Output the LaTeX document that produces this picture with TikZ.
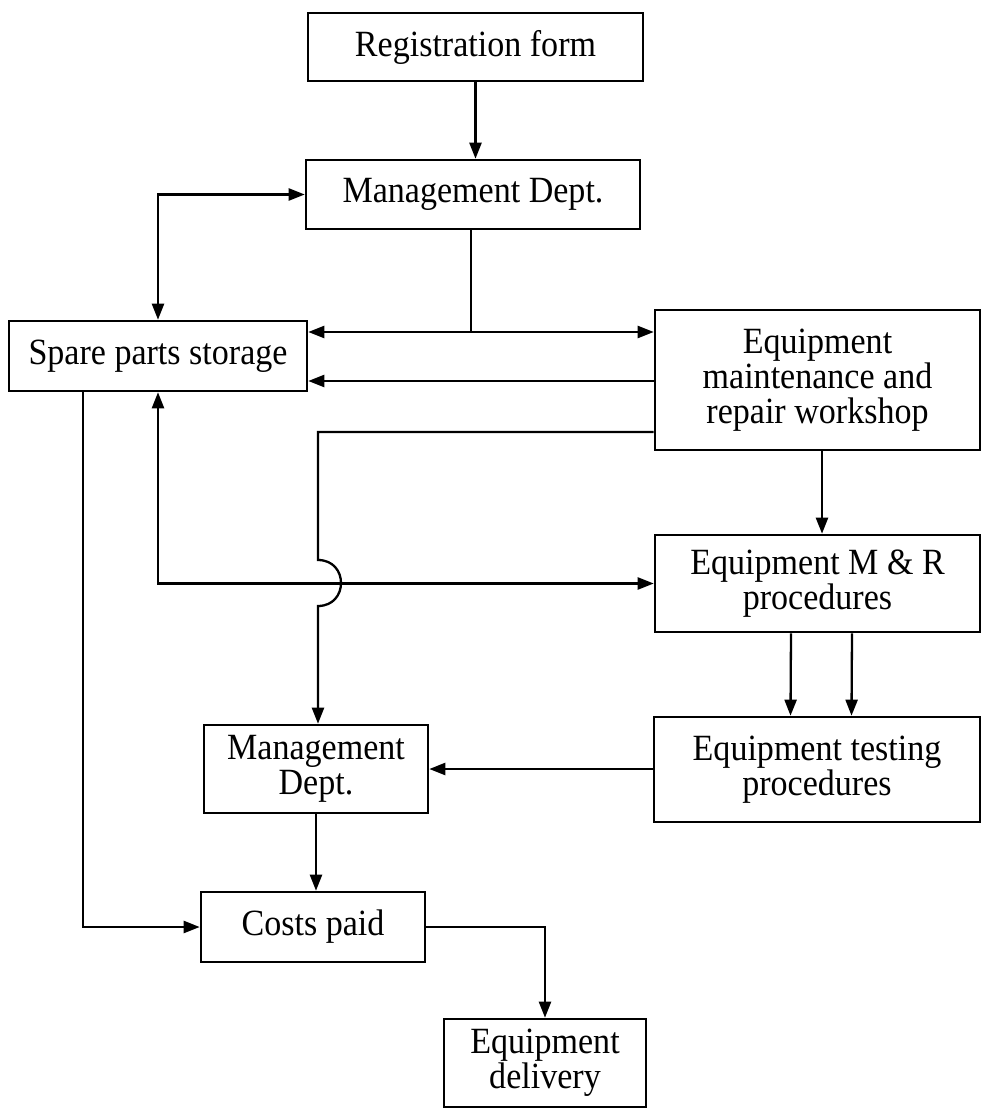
\documentclass[tikz,border=0pt]{standalone}
\usepackage{fontspec}
\setmainfont{Liberation Serif}[FakeStretch=0.92]
\usetikzlibrary{arrows.meta}
\begin{document}
\begin{tikzpicture}[x=1pt,y=-1pt,
  box/.style={draw,line width=2.6pt,align=center,inner sep=0pt,font=\fontsize{37}{35}\selectfont},
  conn/.style={line width=2.3pt},
  arr/.style={conn,-{Triangle[length=16pt,width=12pt]}},
  darr/.style={conn,{Triangle[length=16pt,width=12pt]}-{Triangle[length=16pt,width=12pt]}}]
\useasboundingbox (0,0) rectangle (983,1110);
\node[box,minimum width=335,minimum height=68] (reg) at (475.5,47) {Registration form};
\node[box,minimum width=334,minimum height=69] (mgmt1) at (473,194.5) {Management Dept.};
\node[box,minimum width=298,minimum height=70] (spare) at (158,356) {Spare parts storage};
\node[box,minimum width=325,minimum height=140] (maint) at (817.5,380) {Equipment\\maintenance and\\repair workshop};
\node[box,minimum width=325,minimum height=97] (mr) at (817.5,583.5) {Equipment M \& R\\procedures};
\node[box,minimum width=326,minimum height=105] (test) at (817,769.5) {Equipment testing\\procedures};
\node[box,minimum width=224,minimum height=88] (mgmt2) at (316,769) {Management\\Dept.};
\node[box,minimum width=224,minimum height=70] (costs) at (313,927) {Costs paid};
\node[box,minimum width=202,minimum height=88] (deliv) at (545,1063) {Equipment\\delivery};
\coordinate (j1) at (471,332);
\coordinate (j2) at (0,381);
\coordinate (j3) at (318,432);
\coordinate (jt) at (318,560);
\coordinate (jb) at (318,606);
\coordinate (c83) at (83,0);
% connectors
\draw[arr] (reg.south) -- (reg.south |- mgmt1.north);
\draw[darr] (spare.north) |- (mgmt1.west);
\draw[conn] (mgmt1.south -| j1) -- (j1);
\draw[darr] (spare.east |- j1) -- (maint.west |- j1);
\draw[arr] (maint.west |- j2) -- (spare.east |- j2);
\draw[arr] (maint.west |- j3) -- (j3) -- (jt) .. controls (348.7,560) and (348.7,606) .. (jb) -- (mgmt2.north -| jb);
\draw[darr] (spare.south) |- (mr.west);
\draw[arr] (spare.south -| c83) |- (costs.west);
\draw[arr] ([xshift=4.5]maint.south) -- ([xshift=4.5]mr.north);
\draw[arr] ([xshift=-26.5]mr.south) -- ([xshift=-26.5]test.north);
\draw[arr] ([xshift=34.5]mr.south) -- ([xshift=34.5]test.north);
\draw[arr] (test.west |- mgmt2.east) -- (mgmt2.east);
\draw[arr] (mgmt2.south) -- (mgmt2.south |- costs.north);
\draw[arr] (costs.east) -| (deliv.north);
\end{tikzpicture}
\end{document}
